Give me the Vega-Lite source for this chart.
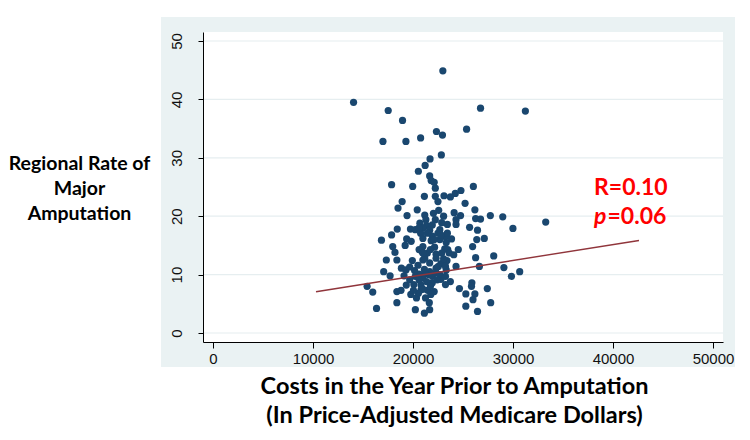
{
  "$schema": "https://vega.github.io/schema/vega-lite/v6.json",
  "width": 520,
  "height": 310,
  "autosize": {"type": "none"},
  "padding": {"left": 203, "top": 32, "right": 27, "bottom": 98},
  "background": "white",
  "config": {
    "view": {"stroke": null, "fill": "white"},
    "axis": {"grid": false, "domainColor": "#000000", "domainWidth": 1, "tickColor": "#000000", "labelColor": "#111111", "labelFont": "Liberation Sans", "titleFont": "Lato", "titleFontWeight": "bold", "titleColor": "#000000"}
  },
  "datasets": {
    "points": [
      {"cost":22985,"rate":44.9},{"cost":14055,"rate":39.5},{"cost":17521,"rate":38.1},{"cost":26753,"rate":38.5},{"cost":31237,"rate":38.0},
      {"cost":18953,"rate":36.4},{"cost":25359,"rate":34.9},{"cost":22344,"rate":34.5},{"cost":22947,"rate":33.9},{"cost":20762,"rate":33.4},
      {"cost":16994,"rate":32.8},{"cost":19292,"rate":32.8},{"cost":22834,"rate":30.5},{"cost":21704,"rate":29.8},{"cost":21214,"rate":28.7},
      {"cost":20536,"rate":27.7},{"cost":21666,"rate":26.9},{"cost":21817,"rate":26.1},{"cost":22118,"rate":25.8},{"cost":17860,"rate":25.4},
      {"cost":19970,"rate":25.1},{"cost":26037,"rate":25.1},{"cost":22231,"rate":24.8},{"cost":24793,"rate":24.4},{"cost":24228,"rate":23.9},
      {"cost":23098,"rate":23.5},{"cost":23738,"rate":23.3},{"cost":21139,"rate":23.4},{"cost":22231,"rate":23.4},{"cost":22495,"rate":22.5},
      {"cost":18915,"rate":22.5},{"cost":25208,"rate":22.2},{"cost":20423,"rate":21.1},{"cost":18501,"rate":21.4},{"cost":26188,"rate":21.1},
      {"cost":22570,"rate":21.0},{"cost":22043,"rate":20.5},{"cost":24115,"rate":20.6},{"cost":19405,"rate":20.1},{"cost":21176,"rate":20.2},
      {"cost":23060,"rate":20.0},{"cost":24756,"rate":20.1},{"cost":27733,"rate":20.1},{"cost":28976,"rate":19.9},{"cost":33271,"rate":19.0},
      {"cost":26263,"rate":19.6},{"cost":26753,"rate":19.5},{"cost":24303,"rate":19.4},{"cost":22231,"rate":19.4},{"cost":23437,"rate":18.6},
      {"cost":20687,"rate":18.8},{"cost":21364,"rate":18.4},{"cost":24303,"rate":18.6},{"cost":29993,"rate":17.9},{"cost":25660,"rate":18.1},
      {"cost":18426,"rate":17.8},{"cost":19744,"rate":17.8},{"cost":20234,"rate":17.7},{"cost":20988,"rate":18.0},{"cost":21666,"rate":17.6},
      {"cost":22683,"rate":17.7},{"cost":26451,"rate":17.6},{"cost":17860,"rate":16.8},{"cost":20762,"rate":17.1},{"cost":21930,"rate":16.6},
      {"cost":22495,"rate":17.1},{"cost":23249,"rate":16.5},{"cost":19367,"rate":16.1},{"cost":16843,"rate":15.9},{"cost":23851,"rate":16.1},
      {"cost":26376,"rate":16.0},{"cost":27130,"rate":16.2},{"cost":19819,"rate":15.7},{"cost":21817,"rate":15.8},{"cost":23324,"rate":15.5},
      {"cost":19216,"rate":15.0},{"cost":17973,"rate":14.8},{"cost":20988,"rate":14.8},{"cost":25962,"rate":14.8},{"cost":22156,"rate":14.7},
      {"cost":23173,"rate":14.4},{"cost":23475,"rate":14.3},{"cost":24529,"rate":14.3},{"cost":18199,"rate":13.8},{"cost":20875,"rate":14.0},
      {"cost":21439,"rate":13.7},{"cost":22306,"rate":13.5},{"cost":28072,"rate":13.2},{"cost":26263,"rate":12.9},{"cost":17333,"rate":12.5},
      {"cost":18388,"rate":12.5},{"cost":19933,"rate":12.4},{"cost":20988,"rate":12.5},{"cost":23399,"rate":12.4},{"cost":21666,"rate":12.0},
      {"cost":22796,"rate":11.9},{"cost":20498,"rate":11.6},{"cost":22532,"rate":11.4},{"cost":24303,"rate":11.4},{"cost":26640,"rate":11.4},
      {"cost":18840,"rate":11.1},{"cost":29089,"rate":11.2},{"cost":19292,"rate":10.8},{"cost":21139,"rate":10.9},{"cost":23324,"rate":10.8},
      {"cost":17069,"rate":10.5},{"cost":30671,"rate":10.5},{"cost":29842,"rate":9.7},{"cost":17710,"rate":9.8},{"cost":20234,"rate":9.7},
      {"cost":21553,"rate":10.0},{"cost":22306,"rate":10.3},{"cost":22796,"rate":9.2},{"cost":20988,"rate":9.4},{"cost":23738,"rate":8.8},
      {"cost":25886,"rate":8.6},{"cost":20084,"rate":8.3},{"cost":19329,"rate":8.2},{"cost":15411,"rate":8.0},{"cost":20800,"rate":8.2},
      {"cost":25848,"rate":8.0},{"cost":24643,"rate":7.6},{"cost":27431,"rate":7.6},{"cost":18802,"rate":7.3},{"cost":18388,"rate":7.1},
      {"cost":20800,"rate":7.4},{"cost":21477,"rate":7.3},{"cost":22118,"rate":7.1},{"cost":15976,"rate":7.0},{"cost":19782,"rate":6.6},
      {"cost":25283,"rate":6.7},{"cost":26188,"rate":6.7},{"cost":21779,"rate":6.6},{"cost":20348,"rate":6.0},{"cost":25999,"rate":5.7},
      {"cost":21251,"rate":6.0},{"cost":18388,"rate":5.2},{"cost":21628,"rate":5.2},{"cost":27770,"rate":5.2},{"cost":25283,"rate":4.6},
      {"cost":16353,"rate":4.2},{"cost":20234,"rate":4.0},{"cost":21666,"rate":4.0},{"cost":21139,"rate":3.4},{"cost":26451,"rate":3.7},
      {"cost":20611,"rate":14.3},{"cost":21176,"rate":13.4},{"cost":21741,"rate":14.3},{"cost":22306,"rate":12.8},{"cost":22872,"rate":13.7},
      {"cost":20988,"rate":16.2},{"cost":21440,"rate":17.1},{"cost":21930,"rate":18.5},{"cost":22872,"rate":18.9},{"cost":23437,"rate":17.1},
      {"cost":21289,"rate":19.4},{"cost":20611,"rate":18.0},{"cost":22683,"rate":16.0},{"cost":23625,"rate":13.7},{"cost":24077,"rate":13.4},
      {"cost":23060,"rate":12.7},{"cost":22306,"rate":11.1},{"cost":21666,"rate":10.5},{"cost":21176,"rate":10.3},{"cost":20611,"rate":10.1},
      {"cost":20159,"rate":10.7},{"cost":19668,"rate":11.3},{"cost":23249,"rate":11.4},{"cost":21930,"rate":9.7},{"cost":22683,"rate":10.0},
      {"cost":23249,"rate":9.7},{"cost":20611,"rate":9.1},{"cost":21364,"rate":8.8},{"cost":21930,"rate":8.6},{"cost":22420,"rate":9.1},
      {"cost":20988,"rate":7.5},{"cost":20536,"rate":6.8},{"cost":20046,"rate":7.3},{"cost":21741,"rate":8.0},{"cost":19669,"rate":9.1},
      {"cost":19104,"rate":9.8},{"cost":23249,"rate":8.3},{"cost":21176,"rate":12.8},{"cost":20988,"rate":13.7},{"cost":22118,"rate":16.0},
      {"cost":22796,"rate":16.8}
    ]
  },
  "layer": [
    {
      "data": {"values": [{}]},
      "mark": {"type": "rect", "color": "#EAF2F3", "clip": false},
      "encoding": {
        "x": {"datum": -5200, "type": "quantitative"},
        "x2": {"datum": 52200},
        "y": {"datum": -5.82, "type": "quantitative"},
        "y2": {"datum": 54.11}
      }
    },
    {
      "data": {"values": [{}]},
      "mark": {"type": "rect", "color": "#FFFFFF", "clip": false},
      "encoding": {
        "x": {"datum": -1000, "type": "quantitative"},
        "x2": {"datum": 51000},
        "y": {"datum": -1.54, "type": "quantitative"},
        "y2": {"datum": 51.54}
      }
    },
    {
      "data": {"values": [{"rate": 0}, {"rate": 10}, {"rate": 20}, {"rate": 30}, {"rate": 40}, {"rate": 50}]},
      "mark": {"type": "rule", "color": "#E6EEF0", "strokeWidth": 1.2},
      "encoding": {"y": {"field": "rate", "type": "quantitative"}}
    },
    {
      "data": {"name": "points"},
      "mark": {"type": "circle", "size": 52, "color": "#1A476F", "opacity": 1},
      "encoding": {
        "x": {
          "field": "cost", "type": "quantitative",
          "scale": {"domain": [-1000, 51000], "nice": false, "zero": false},
          "axis": {
            "zindex": 2,
            "values": [0, 10000, 20000, 30000, 40000, 50000], "format": "d",
            "labelFontSize": 15, "tickSize": 6, "labelPadding": 3, "labelFlush": false,
            "title": ["Costs in the Year Prior to Amputation", "(In Price-Adjusted Medicare Dollars)"],
            "titleFontSize": 23.5, "titleLineHeight": 29, "titleAnchor": "start", "titleAlign": "center", "titleBaseline": "middle",
            "titleX": 251, "titleY": 44
          }
        },
        "y": {
          "field": "rate", "type": "quantitative",
          "scale": {"domain": [-1.54, 51.54], "nice": false, "zero": false},
          "axis": {
            "zindex": 2,
            "values": [0, 10, 20, 30, 40, 50],
            "labelFontSize": 15, "labelAngle": -90, "labelAlign": "center", "labelBaseline": "bottom",
            "tickSize": 5, "labelPadding": 14,
            "title": ["Regional Rate of", "Major", "Amputation"],
            "titleFontSize": 19.5, "titleLineHeight": 25, "titleAngle": 0, "titleAlign": "center", "titleBaseline": "middle",
            "titleX": -124, "titleY": 131
          }
        }
      }
    },
    {
      "data": {"values": [{"cost": 10300, "rate": 7.07}, {"cost": 42600, "rate": 15.85}]},
      "mark": {"type": "line", "color": "#90353B", "strokeWidth": 1.4},
      "encoding": {
        "x": {"field": "cost", "type": "quantitative"},
        "y": {"field": "rate", "type": "quantitative"}
      }
    },
    {
      "data": {"values": [{}]},
      "mark": {"type": "text", "text": "R=0.10", "font": "Lato", "fontWeight": "bold", "fontSize": 23, "color": "#FF0000", "align": "left", "baseline": "alphabetic"},
      "encoding": {"x": {"datum": 38100, "type": "quantitative"}, "y": {"datum": 23.63, "type": "quantitative"}}
    },
    {
      "data": {"values": [{}]},
      "mark": {"type": "text", "text": "p", "font": "Lato", "fontWeight": "bold", "fontStyle": "italic", "fontSize": 23, "color": "#FF0000", "align": "left", "baseline": "alphabetic"},
      "encoding": {"x": {"datum": 38100, "type": "quantitative"}, "y": {"datum": 18.66, "type": "quantitative"}}
    },
    {
      "data": {"values": [{}]},
      "mark": {"type": "text", "text": "=0.06", "font": "Lato", "fontWeight": "bold", "fontSize": 23, "color": "#FF0000", "align": "left", "baseline": "alphabetic"},
      "encoding": {"x": {"datum": 39450, "type": "quantitative"}, "y": {"datum": 18.66, "type": "quantitative"}}
    }
  ]
}
